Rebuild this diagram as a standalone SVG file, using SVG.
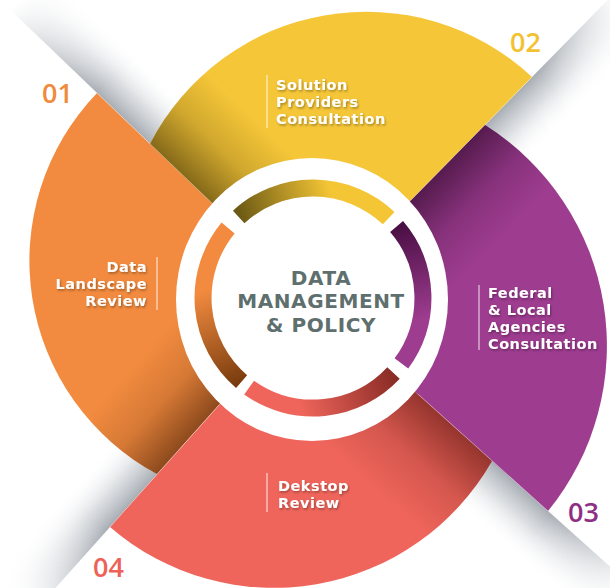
<svg xmlns="http://www.w3.org/2000/svg" width="610" height="588" viewBox="0 0 610 588">
<defs>
<style>
.lbl{font-family:"DejaVu Sans","Liberation Sans",sans-serif;font-weight:bold;font-size:14.5px;letter-spacing:0.5px;fill:#fff;filter:url(#ts)}
.num{font-family:"Open Sans","Liberation Sans",sans-serif;font-weight:600;font-size:27px}
.bar{stroke:#fff;stroke-opacity:0.55;stroke-width:1.6}
.ctr{font-family:"DejaVu Sans","Liberation Sans",sans-serif;font-weight:bold;font-size:20px;letter-spacing:0.6px;fill:#5E6F6E;text-anchor:middle}
.ring{fill:none;stroke-width:17}
.sep{stroke:#fff;stroke-opacity:0.3;stroke-width:1}
</style>
<filter id="ts" x="-10%" y="-20%" width="130%" height="160%">
<feDropShadow dx="1" dy="1.5" stdDeviation="0.9" flood-color="#000" flood-opacity="0.35"/>
</filter>
<linearGradient id="shUL" gradientUnits="userSpaceOnUse" x1="118.1" y1="113.2" x2="156.2" y2="73.5">
<stop offset="0" stop-color="#9EA4AC" stop-opacity="0.9"/><stop offset="0.4" stop-color="#BAC0C6" stop-opacity="0.55"/><stop offset="1" stop-color="#fff" stop-opacity="0"/>
</linearGradient>
<linearGradient id="mUL" gradientUnits="userSpaceOnUse" x1="96.4" y1="92.4" x2="9.8" y2="9.4"><stop offset="0" stop-color="#fff"/><stop offset="1" stop-color="#000"/></linearGradient>
<mask id="maskUL"><rect x="-50" y="-50" width="710" height="700" fill="url(#mUL)"/></mask>
<linearGradient id="shUR" gradientUnits="userSpaceOnUse" x1="488.2" y1="121.7" x2="527.4" y2="160.2">
<stop offset="0" stop-color="#9EA4AC" stop-opacity="0.9"/><stop offset="0.4" stop-color="#BAC0C6" stop-opacity="0.55"/><stop offset="1" stop-color="#fff" stop-opacity="0"/>
</linearGradient>
<linearGradient id="mUR" gradientUnits="userSpaceOnUse" x1="537" y1="72" x2="614.3" y2="-6.8"><stop offset="0" stop-color="#fff"/><stop offset="1" stop-color="#000"/></linearGradient>
<mask id="maskUR"><rect x="-50" y="-50" width="710" height="700" fill="url(#mUR)"/></mask>
<linearGradient id="shLR" gradientUnits="userSpaceOnUse" x1="521.3" y1="487" x2="484.6" y2="527.9">
<stop offset="0" stop-color="#9EA4AC" stop-opacity="0.9"/><stop offset="0.4" stop-color="#BAC0C6" stop-opacity="0.55"/><stop offset="1" stop-color="#fff" stop-opacity="0"/>
</linearGradient>
<linearGradient id="mLR" gradientUnits="userSpaceOnUse" x1="551" y1="513.8" x2="632.9" y2="587.2"><stop offset="0" stop-color="#fff"/><stop offset="1" stop-color="#000"/></linearGradient>
<mask id="maskLR"><rect x="-50" y="-50" width="710" height="700" fill="url(#mLR)"/></mask>
<linearGradient id="shLL" gradientUnits="userSpaceOnUse" x1="133" y1="501.3" x2="92" y2="464.6">
<stop offset="0" stop-color="#9EA4AC" stop-opacity="0.9"/><stop offset="0.4" stop-color="#BAC0C6" stop-opacity="0.55"/><stop offset="1" stop-color="#fff" stop-opacity="0"/>
</linearGradient>
<linearGradient id="mLL" gradientUnits="userSpaceOnUse" x1="106.3" y1="531.1" x2="33" y2="613.1"><stop offset="0" stop-color="#fff"/><stop offset="1" stop-color="#000"/></linearGradient>
<mask id="maskLL"><rect x="-50" y="-50" width="710" height="700" fill="url(#mLL)"/></mask>
<linearGradient id="dkY" gradientUnits="userSpaceOnUse" x1="190.3" y1="182.4" x2="252.6" y2="117.4">
<stop offset="0" stop-color="#2A1E00" stop-opacity="0.55"/><stop offset="0.5" stop-color="#2A1E00" stop-opacity="0.18"/><stop offset="1" stop-color="#2A1E00" stop-opacity="0"/>
</linearGradient>
<linearGradient id="dkP" gradientUnits="userSpaceOnUse" x1="446.1" y1="164.5" x2="510.3" y2="227.6">
<stop offset="0" stop-color="#1A0018" stop-opacity="0.55"/><stop offset="0.5" stop-color="#1A0018" stop-opacity="0.18"/><stop offset="1" stop-color="#1A0018" stop-opacity="0"/>
</linearGradient>
<linearGradient id="dkR" gradientUnits="userSpaceOnUse" x1="454.4" y1="426.9" x2="387.6" y2="501.3">
<stop offset="0" stop-color="#3A0500" stop-opacity="0.5"/><stop offset="0.5" stop-color="#3A0500" stop-opacity="0.15"/><stop offset="1" stop-color="#3A0500" stop-opacity="0"/>
</linearGradient>
<linearGradient id="dkO" gradientUnits="userSpaceOnUse" x1="186.3" y1="441.6" x2="119.2" y2="381.6">
<stop offset="0" stop-color="#3A1500" stop-opacity="0.55"/><stop offset="0.5" stop-color="#3A1500" stop-opacity="0.15"/><stop offset="1" stop-color="#3A1500" stop-opacity="0"/>
</linearGradient>
<linearGradient id="rgY" gradientUnits="userSpaceOnUse" x1="238.7" y1="216.9" x2="330" y2="190">
<stop offset="0" stop-color="#6B5814"/><stop offset="1" stop-color="#F4C535"/>
</linearGradient>
<linearGradient id="rgP" gradientUnits="userSpaceOnUse" x1="396.6" y1="226.6" x2="420" y2="320">
<stop offset="0" stop-color="#4A0F44"/><stop offset="1" stop-color="#9E3C90"/>
</linearGradient>
<linearGradient id="rgR" gradientUnits="userSpaceOnUse" x1="393.5" y1="373" x2="300" y2="408">
<stop offset="0" stop-color="#8A2C26"/><stop offset="1" stop-color="#EF655B"/>
</linearGradient>
<linearGradient id="rgO" gradientUnits="userSpaceOnUse" x1="241.6" y1="381.6" x2="205" y2="290">
<stop offset="0" stop-color="#7A3C0E"/><stop offset="1" stop-color="#F28B3F"/>
</linearGradient>
</defs>

<rect width="610" height="588" fill="#fff"/>

<g id="shadows">
<polygon points="168.6,161.6 -4.7,-4.5 43.7,-55 217,111.1" fill="url(#shUL)" mask="url(#maskUL)"/>
<polygon points="453.1,157.3 621.3,-13.9 671.2,35.1 503,206.3" fill="url(#shUR)" mask="url(#maskUR)"/>
<polygon points="461.8,433.6 640.4,593.9 593.6,646 415,485.7" fill="url(#shLR)" mask="url(#maskLR)"/>
<polygon points="179.7,449.1 19.7,628 -32.5,581.3 127.5,402.4" fill="url(#shLL)" mask="url(#maskLL)"/>
</g>

<g id="node-01">
<path d="M313,300 L97,93 A242,242 0 0 0 157,474 Z" fill="#F28B3F"/>
<path d="M313,300 L97,93 A242,242 0 0 0 157,474 Z" fill="url(#dkO)"/>
<line class="bar" x1="157" y1="257" x2="157" y2="310"/>
<text class="lbl" text-anchor="end"><tspan x="147" y="272">Data</tspan><tspan x="147" y="289">Landscape</tspan><tspan x="147" y="306">Review</tspan></text>
<text class="num" x="42" y="103" fill="#F08A3C">01</text>
</g>

<g id="node-02">
<path d="M313,300 L150,144 A243,243 0 0 1 532,77 Z" fill="#F5C638"/>
<path d="M313,300 L150,144 A243,243 0 0 1 532,77 Z" fill="url(#dkY)"/>
<line class="bar" x1="267" y1="75" x2="267" y2="128"/>
<text class="lbl"><tspan x="276" y="90">Solution</tspan><tspan x="276" y="107">Providers</tspan><tspan x="276" y="124">Consultation</tspan></text>
<text class="num" x="510" y="52" fill="#F2C230">02</text>
</g>

<g id="node-03">
<path d="M313,300 L485,125 A261,261 0 0 1 548,511 Z" fill="#9E3C90"/>
<path d="M313,300 L485,125 A261,261 0 0 1 548,511 Z" fill="url(#dkP)"/>
<line class="bar" x1="479" y1="285" x2="479" y2="350"/>
<text class="lbl"><tspan x="488" y="297.5">Federal</tspan><tspan x="488" y="314.5">&amp; Local</tspan><tspan x="488" y="331.5">Agencies</tspan><tspan x="488" y="348.5">Consultation</tspan></text>
<text class="num" x="568" y="522" fill="#8E2F86">03</text>
</g>

<g id="node-04">
<path d="M313,300 L492,461 A251,251 0 0 1 110,527 Z" fill="#EF655B"/>
<path d="M313,300 L492,461 A251,251 0 0 1 110,527 Z" fill="url(#dkR)"/>
<line class="bar" x1="267" y1="473" x2="267" y2="512"/>
<text class="lbl"><tspan x="278" y="491">Dekstop</tspan><tspan x="278" y="508">Review</tspan></text>
<text class="num" x="93" y="577" fill="#EE6158">04</text>
</g>

<g id="connectors">
<line class="sep" x1="97" y1="93" x2="213" y2="204"/>
<line class="sep" x1="532" y1="77" x2="411" y2="200"/>
<line class="sep" x1="548" y1="511" x2="418" y2="394"/>
<line class="sep" x1="110" y1="527" x2="219" y2="405"/>
</g>

<g id="center">
<ellipse cx="312" cy="299.5" rx="136" ry="141.5" fill="#fff"/>
<path class="ring" d="M238.7,216.9 A110,110 0 0 1 388.7,218.2" stroke="url(#rgY)"/>
<path class="ring" d="M396.6,226.6 A110,110 0 0 1 401.4,363.4" stroke="url(#rgP)"/>
<path class="ring" d="M393.5,373 A110,110 0 0 1 249.1,387.6" stroke="url(#rgR)"/>
<path class="ring" d="M241.6,381.6 A110,110 0 0 1 228.1,228" stroke="url(#rgO)"/>
<text class="ctr"><tspan x="321" y="285">DATA</tspan><tspan x="321" y="308">MANAGEMENT</tspan><tspan x="321" y="332">&amp; POLICY</tspan></text>
</g>
</svg>
